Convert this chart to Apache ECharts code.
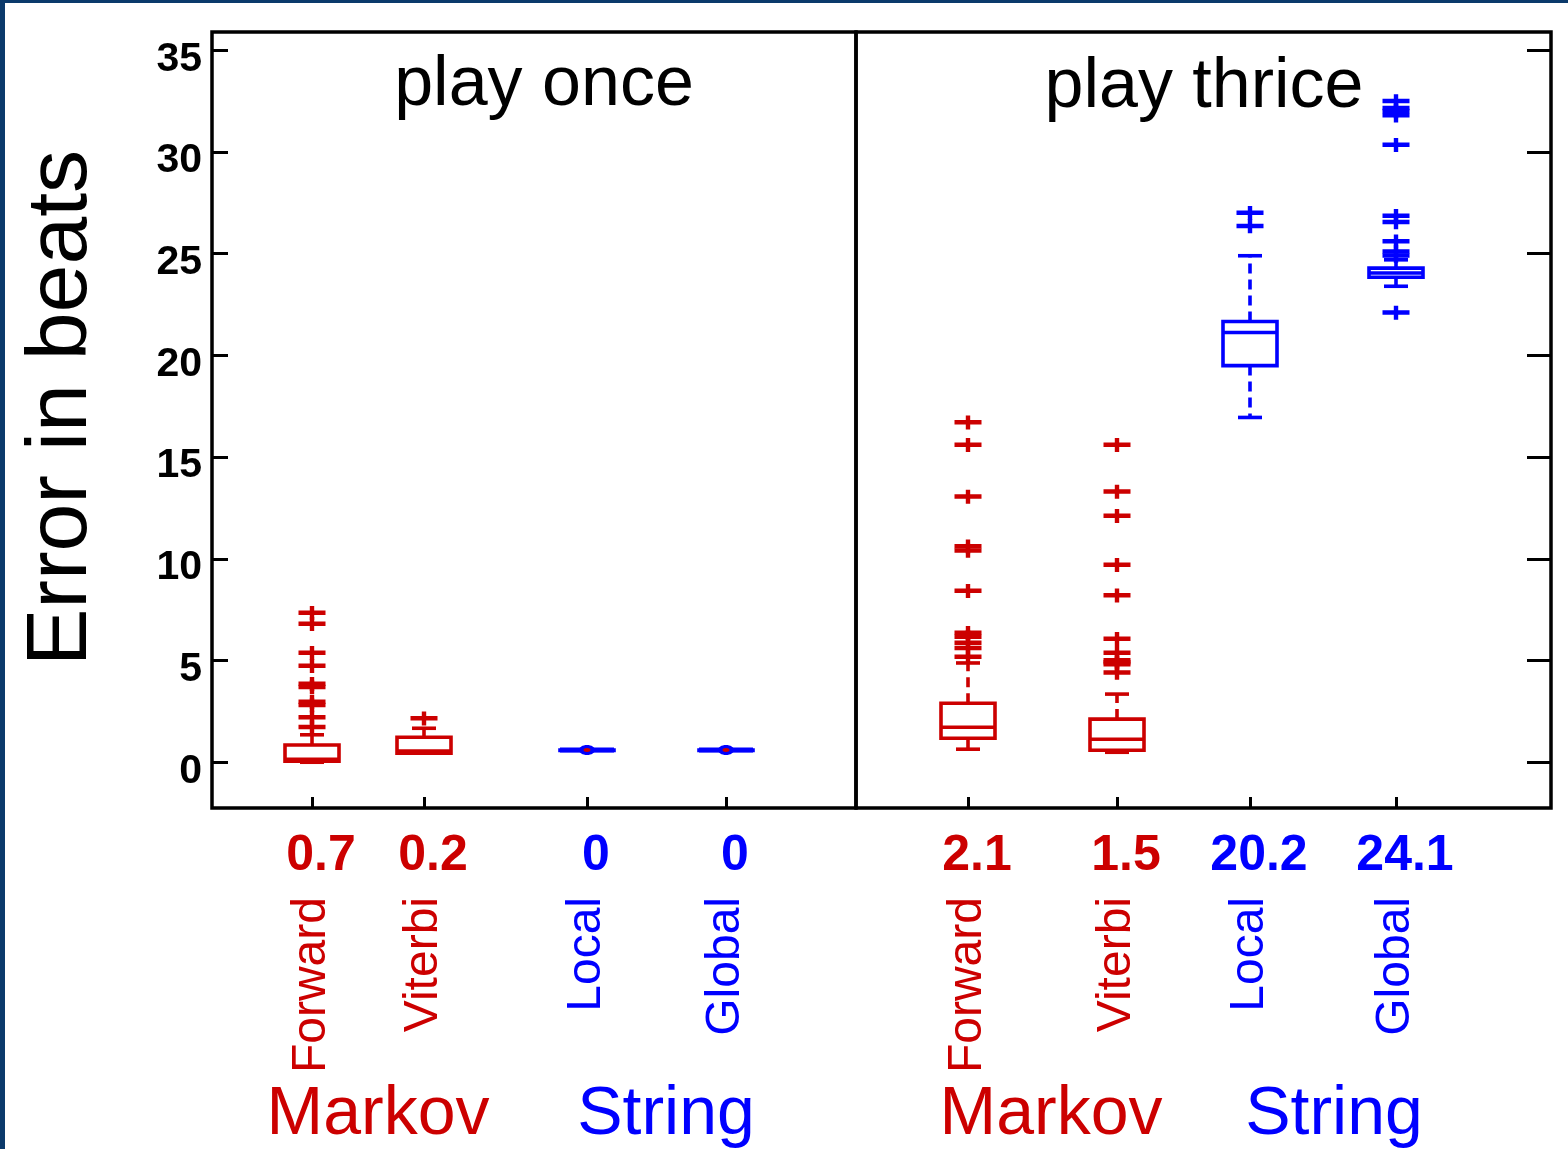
<!DOCTYPE html>
<html>
<head>
<meta charset="utf-8">
<script src="https://cdn.jsdelivr.net/npm/echarts@6/dist/echarts.min.js"></script>
<style>
  html, body { margin: 0; padding: 0; background: #0b3a6b; width: 1568px; height: 1149px; overflow: hidden; }
  #chart { position: absolute; left: 5px; top: 3px; width: 1563px; height: 1146px; background: #fff; }
</style>
</head>
<body>
<div id="chart"></div>
<script>
// ---------------- data ----------------
const methodNames = ['Forward', 'Viterbi', 'Local', 'Global'];
const familyNames = ['Markov', 'String'];
const panelTitles = ['play once', 'play thrice'];
const yAxisTitle = 'Error in beats';
const yTickValues = [0, 5, 10, 15, 20, 25, 30, 35];
const onceScores = ['0.7', '0.2', '0', '0'];
const thriceScores = ['2.1', '1.5', '20.2', '24.1'];
// box statistics: [lower whisker, Q1, median, Q3, upper whisker]
const onceStats = [
  [0.0, 0.05, 0.15, 0.85, 1.35],
  [0.45, 0.45, 0.55, 1.23, 1.67],
  [0.6, 0.6, 0.6, 0.6, 0.6],
  [0.6, 0.6, 0.6, 0.6, 0.6]
];
const thriceStats = [
  [0.64, 1.18, 1.72, 2.9, 4.88],
  [0.49, 0.59, 1.13, 2.12, 3.35],
  [16.95, 19.5, 21.13, 21.67, 24.9],
  [23.4, 23.84, 24.05, 24.29, 24.7]
];
const onceOutliers = [
  [1.72, 2.2, 2.8, 2.96, 3.69, 3.84, 4.73, 5.37, 6.8, 7.34],
  [2.15],
  [],
  []
];
const thriceOutliers = [
  [5.17, 5.6, 5.86, 6.16, 6.35, 8.42, 10.4, 10.6, 13.05, 15.6, 16.7],
  [4.4, 4.8, 4.9, 5.0, 5.37, 6.06, 8.2, 9.7, 12.1, 13.3, 15.6],
  [26.35, 27.0],
  [22.1, 24.9, 25.1, 25.6, 26.55, 26.85, 30.35, 31.8, 32.0, 32.15, 32.5]
];

// ---------------- style ----------------
const RED = '#cc0000', BLUE = '#0000ff', BLACK = '#000000';
const FONT = "'Liberation Sans', Arial, Helvetica, sans-serif";
const Y_MIN = -2.25, Y_MAX = 35.9;
const PLUS = 'path://M0,4.5H27V9H0Z M11.3,0H15.7V14H11.3Z';

const chart = echarts.init(document.getElementById('chart'), null, { renderer: 'canvas' });

// four sub-grids: Markov once, String once, Markov thrice, String thrice
const subGrids = [
  { left: 251, width: 224 },
  { left: 512.5, width: 278 },
  { left: 888.5, width: 298 },
  { left: 1172, width: 292 }
];
const groupColors = [RED, BLUE, RED, BLUE];

function renderBox(color) {
  return function (params, api) {
    const cat = api.value(0);
    const lo = api.value(1), q1 = api.value(2), med = api.value(3), q3 = api.value(4), hi = api.value(5);
    const pLo = api.coord([cat, lo]);
    const pQ1 = api.coord([cat, q1]);
    const pMed = api.coord([cat, med]);
    const pQ3 = api.coord([cat, q3]);
    const pHi = api.coord([cat, hi]);
    const cx = pMed[0];
    const hw = 27, cw = 12;
    const LW = 3.6;
    const solid = { stroke: color, lineWidth: LW, fill: null };
    const dashed = { stroke: color, lineWidth: LW, lineDash: [10, 6], fill: null };
    const children = [
      { type: 'line', shape: { x1: cx, y1: pQ3[1], x2: cx, y2: pHi[1] }, style: dashed },
      { type: 'line', shape: { x1: cx, y1: pQ1[1], x2: cx, y2: pLo[1] }, style: dashed },
      { type: 'line', shape: { x1: cx - cw, y1: pHi[1], x2: cx + cw, y2: pHi[1] }, style: solid },
      { type: 'line', shape: { x1: cx - cw, y1: pLo[1], x2: cx + cw, y2: pLo[1] }, style: solid },
      { type: 'rect', shape: { x: cx - hw, y: pQ3[1], width: 2 * hw, height: Math.max(pQ1[1] - pQ3[1], 0.5) },
        style: { stroke: color, lineWidth: LW, fill: '#ffffff' } },
      { type: 'line', shape: { x1: cx - hw, y1: pMed[1], x2: cx + hw, y2: pMed[1] }, style: solid }
    ];
    if (q3 - q1 < 1e-6) {
      children.push({ type: 'line', shape: { x1: cx - hw, y1: pMed[1], x2: cx + hw, y2: pMed[1] },
        style: { stroke: color, lineWidth: 5, fill: null } });
      children.push({ type: 'ellipse', shape: { cx: cx, cy: pMed[1], rx: 8, ry: 5 }, style: { fill: color } });
      children.push({ type: 'ellipse', shape: { cx: cx, cy: pMed[1], rx: 3.5, ry: 2 }, style: { fill: RED } });
    }
    return { type: 'group', children: children };
  };
}

const grids = [
  { left: 207, right: 712, top: 29, bottom: 341, show: true, borderColor: BLACK, borderWidth: 3.5, backgroundColor: 'transparent', outerBoundsMode: 'none' },
  { left: 851, right: 17, top: 29, bottom: 341, show: true, borderColor: BLACK, borderWidth: 3.5, backgroundColor: 'transparent', outerBoundsMode: 'none' }
];
subGrids.forEach(g => grids.push({ left: g.left, width: g.width, top: 29, bottom: 341, outerBoundsMode: 'none' }));

const xAxes = [
  { gridIndex: 0, type: 'category', data: [''], show: false },
  { gridIndex: 1, type: 'category', data: [''], show: false }
];
const yAxes = [
  {
    gridIndex: 0, type: 'value', min: Y_MIN, max: Y_MAX,
    axisLine: { show: false },
    axisTick: { show: true, inside: true, length: 16, lineStyle: { color: BLACK, width: 3 }, customValues: yTickValues },
    axisLabel: { customValues: yTickValues, margin: 10, color: BLACK, fontSize: 41, fontWeight: 'bold', fontFamily: FONT,
      verticalAlign: 'top', lineHeight: 18 },
    splitLine: { show: false }
  },
  {
    gridIndex: 1, type: 'value', position: 'right', min: Y_MIN, max: Y_MAX,
    axisLine: { show: false },
    axisTick: { show: true, inside: true, length: 24, lineStyle: { color: BLACK, width: 3 }, customValues: yTickValues },
    axisLabel: { show: false },
    splitLine: { show: false }
  }
];
const series = [];

subGrids.forEach((g, gi) => {
  const panel = gi < 2 ? 0 : 1;
  const start = (gi % 2) * 2;
  const cats = methodNames.slice(start, start + 2);
  const scores = (panel === 0 ? onceScores : thriceScores).slice(start, start + 2);
  const stats = (panel === 0 ? onceStats : thriceStats).slice(start, start + 2);
  const outs = (panel === 0 ? onceOutliers : thriceOutliers).slice(start, start + 2);
  const color = groupColors[gi];
  const gridIndex = 2 + gi;
  // numbers axis (with ticks)
  xAxes.push({
    gridIndex: gridIndex, type: 'category', data: cats, position: 'bottom',
    axisLine: { show: false, onZero: false },
    axisTick: { show: true, inside: true, alignWithLabel: true, length: 11, lineStyle: { color: BLACK, width: 3 } },
    axisLabel: {
      interval: 0, margin: 23, color: color, fontSize: 50, fontWeight: 'bold', fontFamily: FONT, lineHeight: 50,
      padding: [0, 0, 0, 18],
      formatter: (v, i) => scores[i]
    },
    splitLine: { show: false }
  });
  yAxes.push({ gridIndex: gridIndex, type: 'value', min: Y_MIN, max: Y_MAX, show: false, splitLine: { show: false } });
  const xNum = xAxes.length - 1;
  const yIdx = yAxes.length - 1;
  series.push({
    type: 'custom', xAxisIndex: xNum, yAxisIndex: yIdx,
    renderItem: renderBox(color),
    encode: { x: 0, y: [1, 2, 3, 4, 5] },
    data: stats.map((s, i) => [i].concat(s)),
    silent: true, animation: false, z: 3
  });
  const pts = [];
  outs.forEach((arr, i) => arr.forEach(v => pts.push([i, v])));
  series.push({
    type: 'scatter', xAxisIndex: xNum, yAxisIndex: yIdx,
    symbol: PLUS, symbolSize: [27, 14], symbolKeepAspect: false,
    itemStyle: { color: color, opacity: 1 },
    data: pts, silent: true, animation: false, z: 2
  });
});
// names axes (rotated method names)
subGrids.forEach((g, gi) => {
  const start = (gi % 2) * 2;
  xAxes.push({
    gridIndex: 2 + gi, type: 'category', data: methodNames.slice(start, start + 2), position: 'bottom',
    axisLine: { show: false, onZero: false }, axisTick: { show: false },
    axisLabel: { interval: 0, rotate: 90, margin: 89, color: groupColors[gi], fontSize: 48, fontFamily: FONT },
    splitLine: { show: false }
  });
});

function txt(text, x, y, size, color, opts) {
  opts = opts || {};
  return {
    type: 'text', x: x, y: y, rotation: opts.rotation || 0, silent: true,
    style: {
      text: text, fill: color,
      font: (opts.bold ? 'bold ' : '') + size + 'px ' + FONT,
      align: 'center', verticalAlign: 'middle',
      textAlign: 'center', textVerticalAlign: 'middle'
    }
  };
}

const graphics = [
  txt(panelTitles[0], 539, 83, 70, BLACK),
  txt(panelTitles[1], 1199, 85, 70, BLACK),
  txt(yAxisTitle, 57, 405, 86, BLACK, { rotation: Math.PI / 2 }),
  txt(familyNames[0], 373, 1112, 68, RED),
  txt(familyNames[1], 661, 1112, 68, BLUE),
  txt(familyNames[0], 1046, 1112, 68, RED),
  txt(familyNames[1], 1329, 1112, 68, BLUE)
];

chart.setOption({
  backgroundColor: '#ffffff',
  animation: false,
  grid: grids,
  xAxis: xAxes,
  yAxis: yAxes,
  series: series,
  graphic: { elements: graphics }
});
</script>
</body>
</html>
